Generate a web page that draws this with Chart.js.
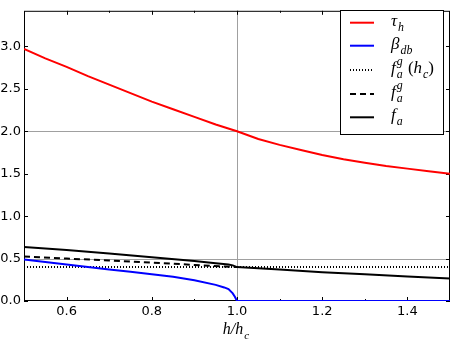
<!DOCTYPE html>
<html>
<head>
<meta charset="utf-8">
<script src="https://cdn.jsdelivr.net/npm/chart.js@4.4.0/dist/chart.umd.min.js"></script>
<style>
html, body { margin:0; padding:0; background:#fff; }
</style>
</head>
<body>
<canvas id="grafico" width="454" height="342"></canvas>
<script>
// valores
const hTau = [0.5,0.55,0.6,0.65,0.7,0.75,0.8,0.85,0.9,0.95,1.0,1.05,1.1,1.15,1.2,1.25,1.3,1.35,1.4,1.45,1.5];
const tau  = [2.97,2.86,2.76,2.65,2.55,2.45,2.35,2.26,2.17,2.08,2.0,1.91,1.84,1.78,1.72,1.67,1.63,1.59,1.56,1.53,1.50];

const hBeta = [0.5,0.55,0.6,0.65,0.7,0.75,0.8,0.85,0.9,0.95,0.97,0.98,0.99,0.995,1.0,1.5];
const beta  = [0.49,0.46,0.43,0.40,0.37,0.345,0.315,0.285,0.245,0.19,0.16,0.14,0.09,0.05,0.0,0.0];

const hFagHc = [0.5,1.5];
const fagHc  = [0.40,0.40];

const hFag = [0.5,0.6,0.7,0.8,0.9,1.0];
const fag  = [0.525,0.50,0.478,0.453,0.425,0.40];

const hFa = [0.5,0.6,0.7,0.8,0.9,0.95,0.98,0.99,1.0,1.1,1.2,1.3,1.4,1.5];
const fa  = [0.635,0.60,0.56,0.515,0.47,0.445,0.43,0.42,0.40,0.37,0.34,0.315,0.29,0.265];

// lineas de referencia grises
const refX = [1.0];
const refY = [0.5, 2.0];

const xTicks = [0.6,0.8,1.0,1.2,1.4];
const xMenores = [0.7,0.9,1.1,1.3];
const yTicks = [0.0,0.5,1.0,1.5,2.0,2.5,3.0];

// etiquetas de la leyenda (texto matematico por partes)
const leyenda = [
    [['τ','n'],['h','sub']],
    [['β','n'],['db','sub']],
    [['f','n'],[['a','g'],'both'],[' (','up'],['h','n'],['c','sub'],[')','up']],
    [['f','n'],[['a','g'],'both']],
    [['f','n'],['a','sub']]
];

function puntos(xs, ys){
    return xs.map(function(v,i){ return {x: v, y: ys[i]}; });
}

function textoMat(ctx, x, y, partes, tam){
    partes.forEach(function(p){
        const t = p[0], tipo = p[1];
        const chico = tam*0.7;
        if(tipo === 'both'){
            ctx.font = 'italic ' + chico + 'px "Liberation Serif"';
            ctx.fillText(t[0], x + 1, y + tam*0.3);
            ctx.fillText(t[1], x + 1, y - tam*0.45);
            x += Math.max(ctx.measureText(t[0]).width, ctx.measureText(t[1]).width) + 2;
            return;
        }
        let size = tam, dy = 0, estilo = 'italic ', dx = 0;
        if(tipo === 'sub'){ size = chico; dy = tam*0.3; dx = 1; }
        if(tipo === 'up'){ estilo = ''; }
        ctx.font = estilo + size + 'px "Liberation Serif"';
        ctx.fillText(t, x + dx, y + dy);
        x += ctx.measureText(t).width + dx;
    });
    return x;
}

function linea(ctx, x1, y1, x2, y2){
    ctx.beginPath();
    ctx.moveTo(x1, y1);
    ctx.lineTo(x2, y2);
    ctx.stroke();
}

const marco = {
    id: 'marco',
    beforeDatasetsDraw(chart){
        const ctx = chart.ctx, a = chart.chartArea;
        const x = chart.scales.x, y = chart.scales.y;
        ctx.save();
        ctx.lineWidth = 1;
        ctx.strokeStyle = '#a0a0a0';
        refX.forEach(function(v){
            const px = Math.round(x.getPixelForValue(v)) + 0.5;
            linea(ctx, px, a.top, px, a.bottom);
        });
        refY.forEach(function(v){
            const py = Math.round(y.getPixelForValue(v)) + 0.5;
            linea(ctx, a.left, py, a.right, py);
        });
        ctx.strokeStyle = '#000';
        xTicks.forEach(function(v){
            const px = Math.round(x.getPixelForValue(v)) + 0.5;
            linea(ctx, px, a.bottom, px, a.bottom - 4);
            linea(ctx, px, a.top, px, a.top + 4);
        });
        xMenores.forEach(function(v){
            const px = Math.round(x.getPixelForValue(v)) + 0.5;
            linea(ctx, px, a.bottom, px, a.bottom - 2);
            linea(ctx, px, a.top, px, a.top + 2);
        });
        yTicks.forEach(function(v){
            const py = Math.round(y.getPixelForValue(v)) + 0.5;
            linea(ctx, a.left, py, a.left + 4, py);
            linea(ctx, a.right, py, a.right - 4, py);
        });
        ctx.strokeRect(a.left + 0.5, a.top + 0.5, a.width - 1, a.height - 1);
        ctx.restore();
    },
    afterDatasetsDraw(chart){
        const ctx = chart.ctx, a = chart.chartArea;
        ctx.save();
        // leyenda
        ctx.fillStyle = '#fff';
        ctx.fillRect(340.5, 10.5, 103, 124);
        ctx.strokeStyle = '#000';
        ctx.lineWidth = 1;
        ctx.strokeRect(340.5, 10.5, 103, 124);
        const filas = [22.7, 45.7, 70, 94, 117.3];
        chart.data.datasets.forEach(function(ds, i){
            ctx.strokeStyle = ds.borderColor;
            ctx.lineWidth = ds.borderWidth;
            ctx.setLineDash(ds.borderDash || []);
            linea(ctx, 350, filas[i], 374, filas[i]);
            ctx.setLineDash([]);
            ctx.fillStyle = '#000';
            ctx.textBaseline = 'alphabetic';
            textoMat(ctx, 391, filas[i] + 3, leyenda[i], 17);
        });
        // titulo del eje x
        ctx.fillStyle = '#000';
        ctx.textBaseline = 'alphabetic';
        ctx.font = 'italic 16px "Liberation Serif"';
        const w = ctx.measureText('h/h').width + 8;
        const x0 = (a.left + a.right)/2 - w/2;
        textoMat(ctx, x0, 334, [['h/h','n'],['c','sub']], 16);
        ctx.restore();
    }
};

const ctx = document.getElementById('grafico');

new Chart(ctx, {
    type: 'line',
    plugins: [marco],
    data: {
        datasets: [
            { data: puntos(hTau, tau), borderColor: '#ff0000', borderWidth: 2 },
            { data: puntos(hBeta, beta), borderColor: '#0000ff', borderWidth: 2 },
            { data: puntos(hFagHc, fagHc), borderColor: '#000000', borderWidth: 2, borderDash: [1,2] },
            { data: puntos(hFag, fag), borderColor: '#000000', borderWidth: 2, borderDash: [6,4] },
            { data: puntos(hFa, fa), borderColor: '#000000', borderWidth: 2 }
        ]
    },
    options: {
        responsive: false,
        animation: false,
        devicePixelRatio: 1,
        elements: { point: { radius: 0 }, line: { tension: 0 } },
        layout: { padding: { top: 3, right: 4, left: 0, bottom: 0 } },
        plugins: { legend: { display: false }, tooltip: { enabled: false } },
        scales: {
            x: {
                type: 'linear', min: 0.5, max: 1.5,
                grid: { display: false, drawTicks: false },
                border: { display: false },
                afterBuildTicks: function(s){ s.ticks = xTicks.map(function(v){ return {value: v}; }); },
                afterFit: function(s){ s.height = 41; },
                ticks: {
                    padding: 3, color: '#000', maxRotation: 0,
                    font: { family: 'DejaVu Sans', size: 13 },
                    callback: function(v){ return v.toFixed(1); }
                }
            },
            y: {
                type: 'linear', min: 0, max: 3.42,
                grid: { display: false, drawTicks: false },
                border: { display: false },
                afterBuildTicks: function(s){ s.ticks = yTicks.map(function(v){ return {value: v}; }); },
                afterFit: function(s){ s.width = 24; },
                ticks: {
                    padding: 3, color: '#000',
                    font: { family: 'DejaVu Sans', size: 13 },
                    callback: function(v){ return v.toFixed(1); }
                }
            }
        }
    }
});
</script>
</body>
</html>
